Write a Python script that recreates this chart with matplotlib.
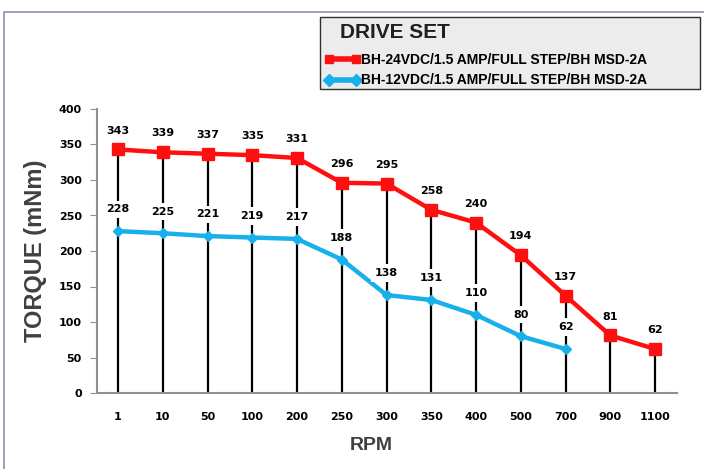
import matplotlib.pyplot as plt
from matplotlib.patches import Rectangle
from matplotlib.lines import Line2D

rpm = ["1", "10", "50", "100", "200", "250", "300", "350", "400", "500", "700", "900", "1100"]
torque_24v = [343, 339, 337, 335, 331, 296, 295, 258, 240, 194, 137, 81, 62]
torque_12v = [228, 225, 221, 219, 217, 188, 138, 131, 110, 80, 62]

red = "#ff1010"
blue = "#18b0ea"

plt.rcParams["font.family"] = ["DejaVu Sans"]
fig = plt.figure(figsize=(7.04, 4.69), dpi=100)
fig.patch.set_facecolor("white")

# outer frame
fig.patches.append(Rectangle((4 / 704, -0.01), 1.0, 1 - 12 / 469 + 0.01,
                             transform=fig.transFigure, fill=False,
                             edgecolor="#8a90b0", lw=1.2))

ax = fig.add_axes([97 / 704, 1 - 393 / 469, 580 / 704, 284 / 469])
ax.set_facecolor("white")

x24 = list(range(len(torque_24v)))
x12 = list(range(len(torque_12v)))

# drop lines
ax.vlines(x24, 0, torque_24v, color="black", lw=1.6, zorder=1)

ax.plot(x24, torque_24v, color=red, lw=3.2, marker="s", ms=9, zorder=3)
ax.plot(x12, torque_12v, color=blue, lw=3.2, marker="D", ms=5, zorder=3)

for x, v in zip(x24, torque_24v):
    ax.annotate(str(v), (x, v), xytext=(0, 10), textcoords="offset points",
                ha="center", va="bottom", fontsize=8, fontweight="bold", zorder=4)
for x, v in zip(x12, torque_12v):
    ax.annotate(str(v), (x, v), xytext=(0, 12), textcoords="offset points",
                ha="center", va="bottom", fontsize=8, fontweight="bold", zorder=4,
                bbox=dict(boxstyle="square,pad=0.35", fc="white", ec="none"))

ax.set_xlim(-0.47, 12.49)
ax.set_ylim(0, 400)
ax.set_yticks(range(0, 401, 50))
ax.set_xticks(x24)
ax.set_xticklabels(rpm)
ax.tick_params(axis="x", length=0, pad=14, labelsize=8)
ax.tick_params(axis="y", length=5, color="#909090", labelsize=8, pad=6)
for lab in ax.get_xticklabels() + ax.get_yticklabels():
    lab.set_fontweight("bold")
for s in ["top", "right"]:
    ax.spines[s].set_visible(False)
for s in ["left", "bottom"]:
    ax.spines[s].set_color("#909090")
    ax.spines[s].set_linewidth(1.5)

sans = ["Liberation Sans", "DejaVu Sans"]
ax.set_ylabel("TORQUE (mNm)", fontsize=17, fontweight="bold", color="#404040",
              family=sans, labelpad=8)
fig.text(371 / 704, 1 - 445 / 469, "RPM", fontsize=14, fontweight="bold",
         color="#404040", family=sans, ha="center", va="center")

# legend box
fig.patches.append(Rectangle((320 / 704, 1 - 89 / 469), 380 / 704, 72 / 469,
                             transform=fig.transFigure, facecolor="#ececec",
                             edgecolor="#303030", lw=1))
fig.text(340 / 704, 1 - 32 / 469, "DRIVE SET", fontsize=15, fontweight="bold",
         color="#202020", family=sans, va="center")
handles = [Line2D([0], [0], color=red, lw=4, marker="s", ms=6),
           Line2D([0], [0], color=blue, lw=4, marker="D", ms=6)]
leg = fig.legend(handles,
                 ["BH-24VDC/1.5 AMP/FULL STEP/BH MSD-2A",
                  "BH-12VDC/1.5 AMP/FULL STEP/BH MSD-2A"],
                 loc="upper left", bbox_to_anchor=(312 / 704, 1 - 40 / 469),
                 frameon=False, handlelength=2.6, handletextpad=0.05,
                 labelspacing=0.5, numpoints=2,
                 prop=dict(family=sans, weight="bold", size=10))

fig.savefig("out.png", dpi=100)
